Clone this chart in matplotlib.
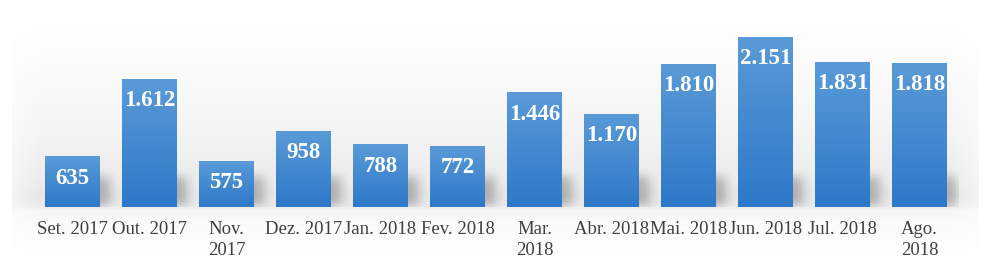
import matplotlib
matplotlib.use("Agg")
import matplotlib.pyplot as plt
import numpy as np
from matplotlib.colors import LinearSegmentedColormap

months = ["Set. 2017", "Out. 2017", "Nov.\n2017", "Dez. 2017", "Jan. 2018", "Fev. 2018",
          "Mar.\n2018", "Abr. 2018", "Mai. 2018", "Jun. 2018", "Jul. 2018", "Ago.\n2018"]
values = [635, 1612, 575, 958, 788, 772, 1446, 1170, 1810, 2151, 1831, 1818]
value_labels = ["635", "1.612", "575", "958", "788", "772", "1.446", "1.170",
                "1.810", "2.151", "1.831", "1.818"]

W, H = 988, 278
fig = plt.figure(figsize=(W / 100, H / 100), dpi=100)
fig.patch.set_facecolor("white")

# ---------------------------------------------------------------------------
# Background gradient panel (white at top, gray band near the baseline)
# ---------------------------------------------------------------------------
bg = fig.add_axes([12 / W, 16 / H, 966 / W, 254 / H])
bg.set_axis_off()
rows = np.linspace(0, 1, 254)  # 0 = top
prof = np.interp(rows, [0.0, 0.2, 0.5, 0.68, 0.74, 0.78, 0.8, 0.86, 1.0],
                 [1.00, 0.99, 0.955, 0.925, 0.905, 0.92, 0.965, 0.985, 1.0])
cols = np.linspace(0, 1, 966)
side = np.interp(cols, [0.0, 0.03, 0.97, 1.0], [0.5, 1.0, 1.0, 0.5])
shade = 1 - (1 - prof[:, None]) * side[None, :]
bg.imshow(np.dstack([shade, shade, shade]), aspect="auto", extent=[0, 1, 0, 1])
bg.set_xlim(0, 1)
bg.set_ylim(0, 1)

# ---------------------------------------------------------------------------
# Main bar axes
# ---------------------------------------------------------------------------
ax = fig.add_axes([34 / W, 71 / H, 924 / W, 197.5 / H])
ax.patch.set_alpha(0)
x = np.arange(len(values))
width = 0.714
ax.set_xlim(-0.5, len(values) - 0.5)
ax.set_ylim(0, 2500)

# soft shadows behind bars
sx = np.linspace(-0.5, len(values) - 0.5, 1200)
sy = np.linspace(0, 2500, 300)
mask = np.zeros((len(sy), len(sx)))
for xi, v in zip(x, values):
    inx = (sx > xi - width / 2 + 0.15) & (sx < xi + width / 2 + 0.12)
    iny = (sy > 0) & (sy < min(v, 380))
    mask[np.ix_(iny, inx)] = 1.0
k = np.ones(17) / 17
for _ in range(2):
    mask = np.apply_along_axis(lambda r: np.convolve(r, k, mode="same"), 1, mask)
k2 = np.ones(17) / 17
for _ in range(2):
    mask = np.apply_along_axis(lambda c: np.convolve(c, k2, mode="same"), 0, mask)
shadow = np.zeros((len(sy), len(sx), 4))
shadow[..., 3] = mask * 0.25
ax.imshow(shadow, extent=[sx[0], sx[-1], 0, 2500], origin="lower", aspect="auto",
          zorder=1, interpolation="bilinear")

# gradient bars
bar_cmap = LinearSegmentedColormap.from_list("bars", ["#2e78c9", "#5a9bd7"])
grad = np.linspace(0, 1, 256)[:, None]
for xi, v, lab in zip(x, values, value_labels):
    ax.imshow(grad, cmap=bar_cmap, extent=[xi - width / 2, xi + width / 2, 0, v],
              origin="lower", aspect="auto", zorder=2)
    ax.text(xi, v - 270, lab, ha="center", va="center", color="white",
            fontsize=16.5, fontweight="bold", family="Liberation Serif", zorder=3)

ax.set_xlim(-0.5, len(values) - 0.5)
ax.set_ylim(0, 2500)
ax.set_xticks(x)
ax.set_xticklabels(months, fontsize=13.5, family="Liberation Serif", color="#404040",
                   linespacing=1.3)
ax.tick_params(axis="x", length=0, pad=10)
ax.set_yticks([])
for s in ax.spines.values():
    s.set_visible(False)

fig.savefig("out.png", dpi=100, facecolor="white")
